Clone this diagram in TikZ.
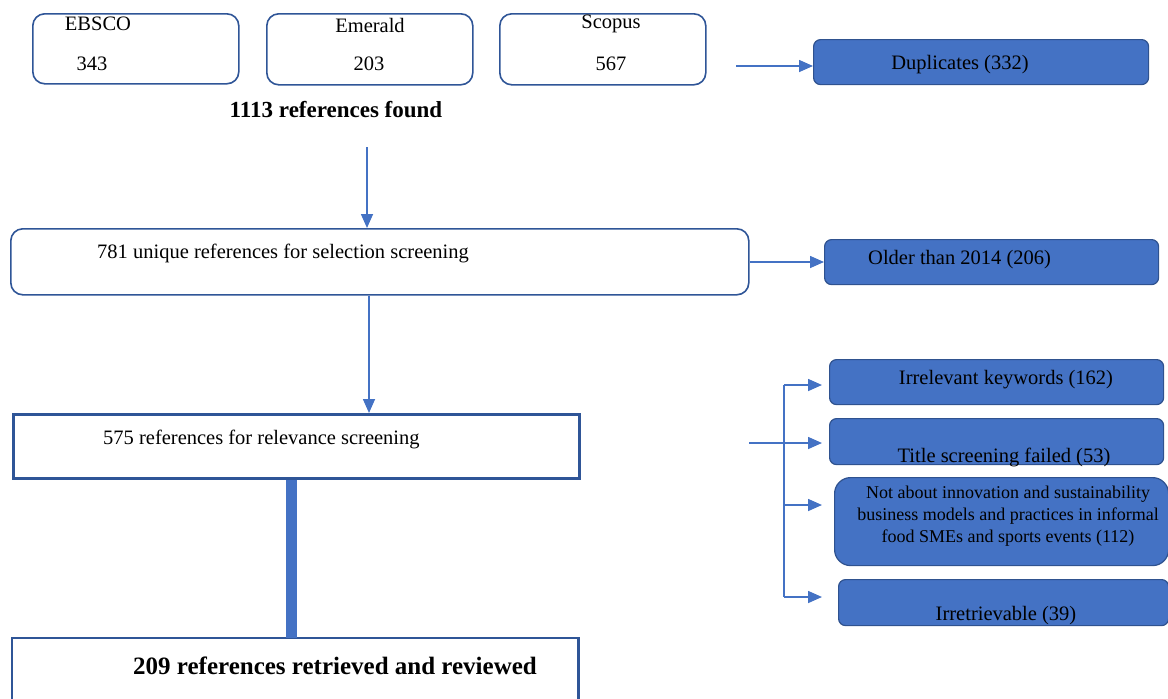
\documentclass[tikz,border=0pt]{standalone}
\usepackage{fontspec}
\setmainfont{Liberation Serif}
\usetikzlibrary{arrows.meta}
\definecolor{fillblue}{HTML}{4472C4}
\definecolor{edgeblue}{HTML}{2F528F}
\definecolor{lineblue}{HTML}{2F5597}
\begin{document}
\begin{tikzpicture}[x=1pt,y=-1pt,
  srcbox/.style={draw=lineblue,line width=1.6pt,rounded corners=12pt,fill=white,anchor=north west,inner sep=0pt},
  sqbox/.style={draw=lineblue,line width=2.6pt,fill=white,anchor=north west,inner sep=0pt},
  exbox/.style={draw=edgeblue,line width=1.2pt,fill=fillblue,rounded corners=7pt,anchor=north west,inner sep=0pt},
  conn/.style={draw=fillblue,line width=1.6pt,-{Triangle[length=14pt,width=12pt]}},
  plain/.style={draw=fillblue,line width=1.6pt},
  txt/.style={inner sep=0pt,anchor=center,font=\fontsize{20.5}{24}\selectfont},
  btxt/.style={inner sep=0pt,anchor=center,font=\fontsize{23}{27}\selectfont\bfseries},
  stxt/.style={inner sep=0pt,anchor=center,align=center,font=\fontsize{18}{22}\selectfont}]
\useasboundingbox (0,0) rectangle (1168,699);

% source boxes
\node[srcbox,minimum width=206,minimum height=70] (ebsco) at (32,13) {};
\node[srcbox,minimum width=206,minimum height=71] (emerald) at (266,13) {};
\node[srcbox,minimum width=206,minimum height=71] (scopus) at (499,13) {};
\node[txt] (tebsco) at (98,24) {EBSCO};
\node[txt] (nebsco) at (92,64) {343};
\node[txt] (temerald) at (370,25) {Emerald};
\node[txt] (nemerald) at (369,64) {203};
\node[txt] (tscopus) at (611,24) {Scopus};
\node[txt] (nscopus) at (611,64) {567};
\node[btxt] (found) at (336,110) {1113 references found};

% duplicates
\node[exbox,minimum width=335,minimum height=45] (dup) at (813,39) {};
\node[txt] (tdup) at (960,65) {Duplicates (332)};
\coordinate (dupstart) at (736,66);
\draw[conn] (dupstart) -- (dupstart -| dup.west);

% 781 box
\node[srcbox,minimum width=738,minimum height=66] (b781) at (10,228) {};
\node[txt,anchor=west] (t781) at (97,253) {781 unique references for selection screening};
\coordinate (c1) at (367,147);
\draw[conn] (c1) -- (c1 |- b781.north);

% older
\node[exbox,minimum width=334,minimum height=45] (old) at (824,239) {};
\node[txt,anchor=west] (told) at (868,260) {Older than 2014 (206)};
\coordinate (c3) at (0,262);
\draw[conn] (b781.east |- c3) -- (old.west |- c3);

% 575 box
\node[sqbox,minimum width=566,minimum height=64] (b575) at (12,413) {};
\node[txt,anchor=west] (t575) at (103,439) {575 references for relevance screening};
\coordinate (c2) at (369,0);
\draw[conn] (b781.south -| c2) -- (b575.north -| c2);

% 209 box (open at the bottom)
\node[inner sep=0pt,anchor=north west,minimum width=566,minimum height=61] (b209) at (12,638) {};
\draw[draw=lineblue,line width=2.6pt] (b209.south west) -- (b209.north west) -- (b209.north east) -- (b209.south east);
\node[btxt,font=\fontsize{25}{29}\selectfont\bfseries] (t209) at (335,666) {209 references retrieved and reviewed};
\coordinate (c4) at (291,0);
\draw[draw=fillblue,line width=11pt] (b575.south -| c4) -- (b209.north -| c4);

% exclusion boxes
\node[exbox,minimum width=334,minimum height=45] (irr) at (829,359) {};
\node[txt] (tirr) at (1006,380) {Irrelevant keywords (162)};
\node[exbox,minimum width=334,minimum height=46] (title) at (829,418) {};
\node[txt] (ttitle) at (1004,457) {Title screening failed (53)};
\node[exbox,rounded corners=16pt,minimum width=334,minimum height=88] (notab) at (834,477) {};
\node[stxt] (tnotab) at (1008,516) {Not about innovation and sustainability\\business models and practices in informal\\food SMEs and sports events (112)};
\node[exbox,minimum width=330,minimum height=46] (irret) at (838,579) {};
\node[txt] (tirret) at (1006,616) {Irretrievable (39)};

\coordinate (bstart) at (749,443);
\coordinate (j) at (784,443);
\coordinate (jt) at (784,385);
\coordinate (jb) at (784,597);
\coordinate (jn) at (784,505);
\draw[plain] (bstart) -- (j);
\draw[plain] (jt) -- (jb);
\draw[conn,shorten >=7pt] (jt) -- (jt -| irr.west);
\draw[conn,shorten >=7pt] (j) -- (j -| title.west);
\draw[conn,shorten >=12pt] (jn) -- (jn -| notab.west);
\draw[conn,shorten >=16pt] (jb) -- (jb -| irret.west);
\end{tikzpicture}
\end{document}
